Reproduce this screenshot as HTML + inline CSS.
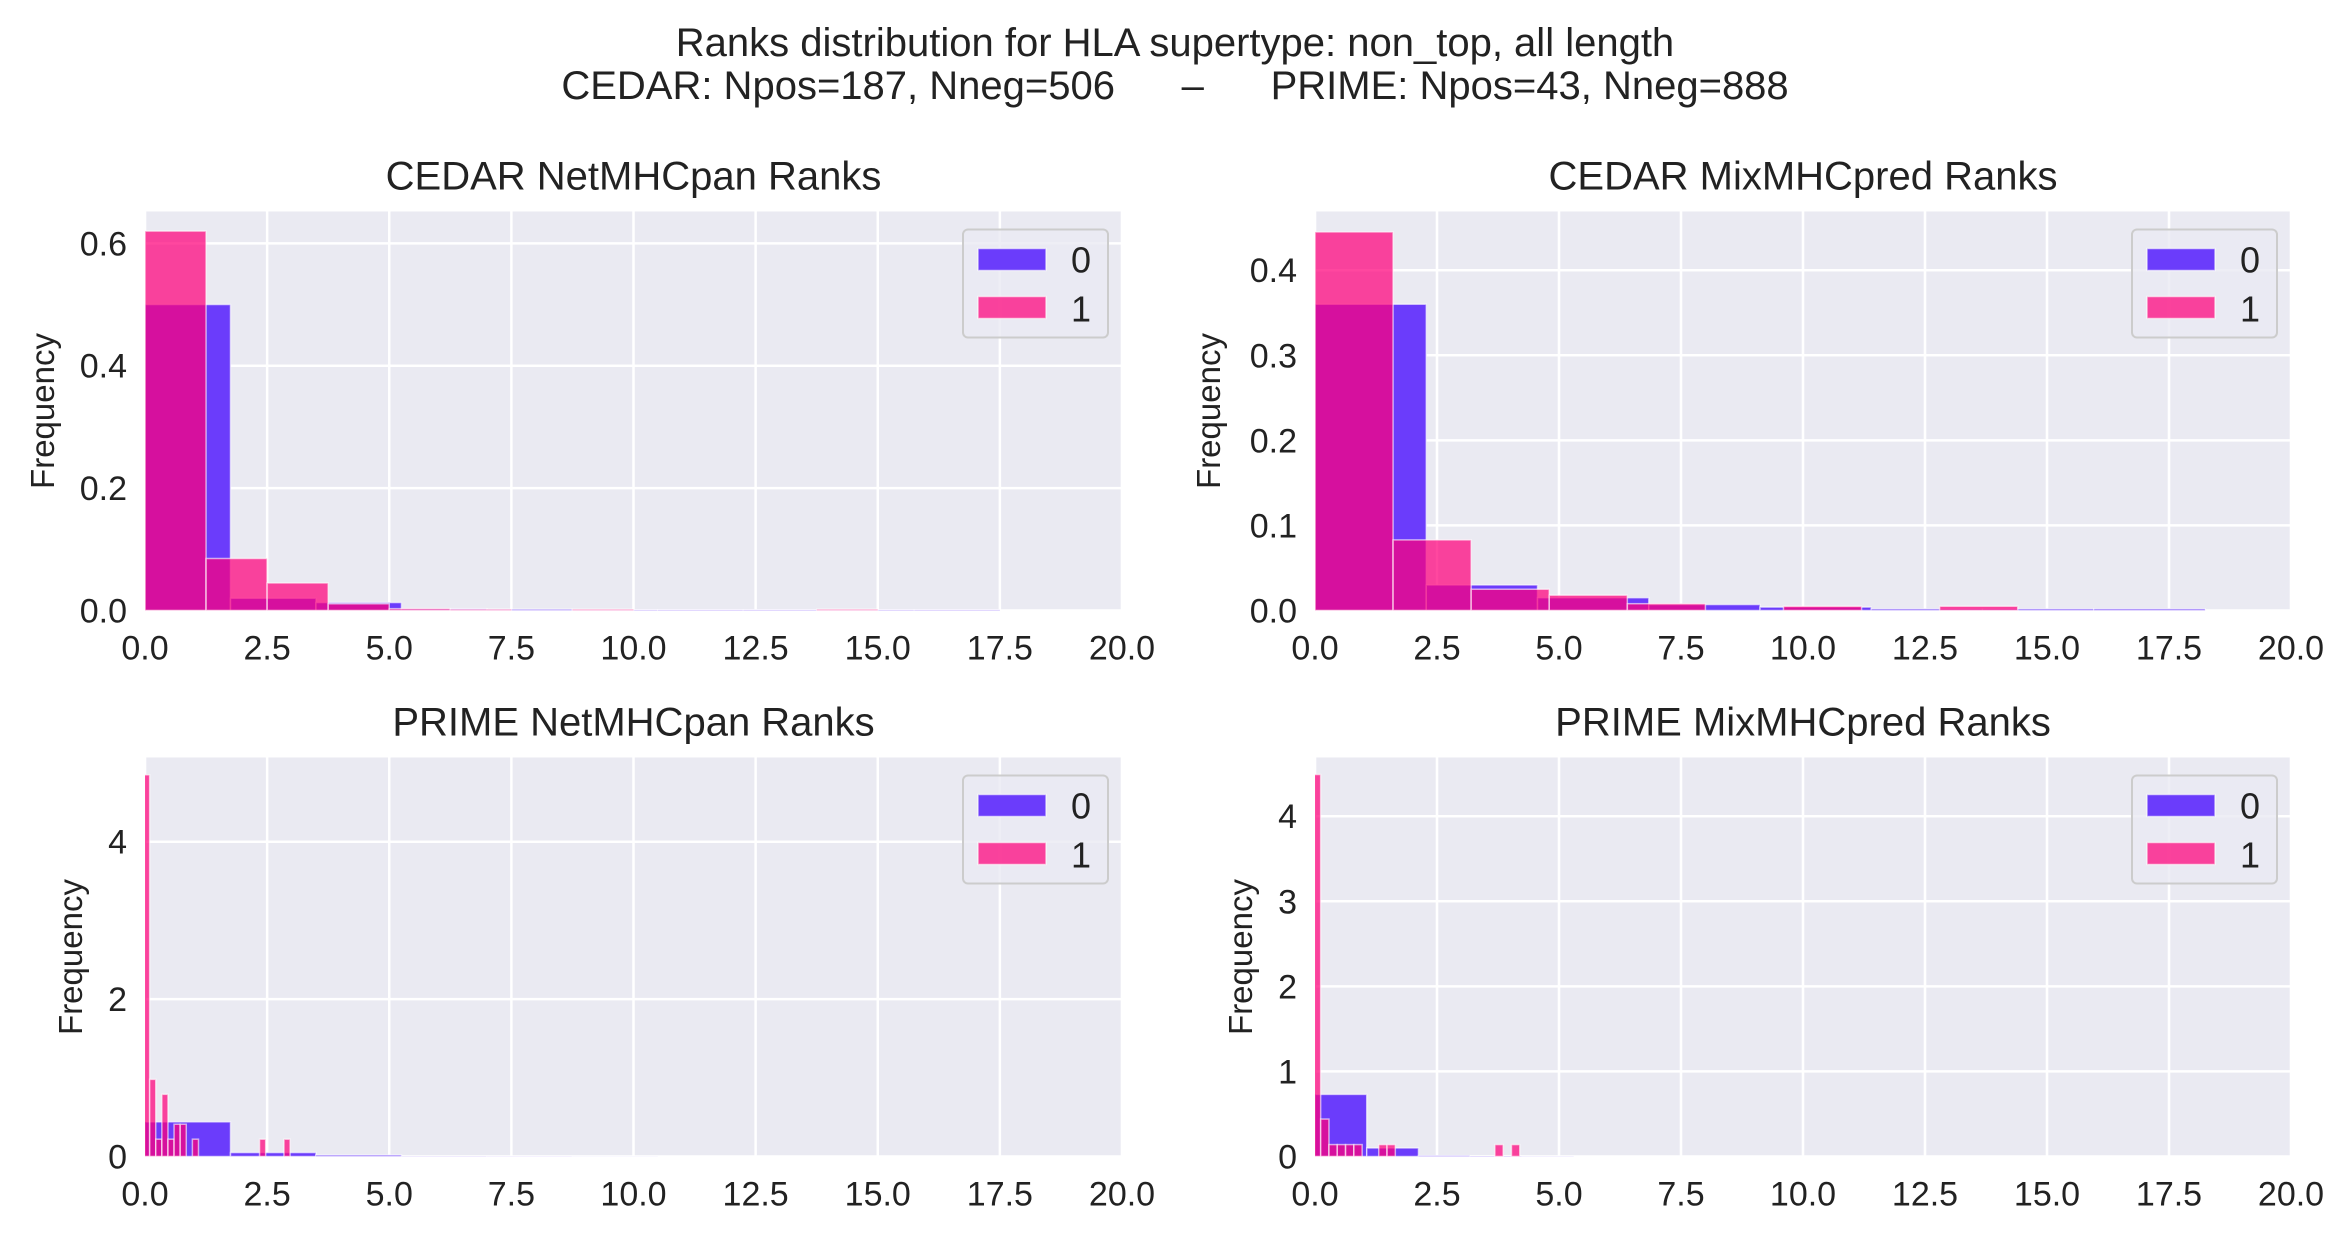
<!DOCTYPE html>
<html><head><meta charset="utf-8"><style>
html,body{margin:0;padding:0;background:#fff;}
svg{display:block;font-family:"Liberation Sans","DejaVu Sans",sans-serif;}
</style></head><body>
<svg id="fig" width="2351" height="1238" viewBox="0 0 2351 1238" xmlns="http://www.w3.org/2000/svg">
<rect width="2351" height="1238" fill="#fff"/>
<text x="1175" y="56" font-size="40" text-anchor="middle" fill="#222">Ranks distribution for HLA supertype: non_top, all length</text>
<text x="1175" y="99" font-size="40" text-anchor="middle" fill="#222" xml:space="preserve">CEDAR: Npos=187, Nneg=506      –      PRIME: Npos=43, Nneg=888</text>
</svg>
<script>
// Panel 1: CEDAR NetMHCpan
const p1BlueStart = 0, p1BlueWidth = 1.75;
const p1Blue = [0.50, 0.02, 0.013, 0.003, 0.002, 0.001, 0.001, 0.001, 0.001, 0.001];
const p1PinkStart = 0, p1PinkWidth = 1.25;
const p1Pink = [0.62, 0.085, 0.045, 0.011, 0.003, 0.002, 0, 0.002, 0, 0, 0, 0.002];
// Panel 2: CEDAR MixMHCpred
const p2BlueStart = 0, p2BlueWidth = 2.28;
const p2Blue = [0.36, 0.03, 0.015, 0.007, 0.004, 0.002, 0.002, 0.002];
const p2PinkStart = 0, p2PinkWidth = 1.6;
const p2Pink = [0.445, 0.083, 0.025, 0.018, 0.008, 0, 0.005, 0, 0.005, 0, 0, 0];
// Panel 3: PRIME NetMHCpan
const p3BlueStart = 0, p3BlueWidth = 1.75;
const p3Blue = [0.44, 0.05, 0.02, 0.003, 0.002, 0.001];
const p3PinkStart = -0.03, p3PinkWidth = 0.125;
const p3Pink = [4.85, 0.98, 0.22, 0.79, 0.22, 0.41, 0.41, 0, 0.22, 0, 0, 0, 0, 0, 0, 0, 0, 0, 0, 0.22, 0, 0, 0, 0.22];
// Panel 4: PRIME MixMHCpred
const p4BlueStart = 0, p4BlueWidth = 1.06;
const p4Blue = [0.73, 0.1, 0.01, 0.005, 0.002];
const p4PinkStart = -0.054, p4PinkWidth = 0.17;
const p4Pink = [4.49, 0.44, 0.14, 0.14, 0.14, 0.14, 0, 0, 0.14, 0.14, 0, 0, 0, 0, 0, 0, 0, 0, 0, 0, 0, 0, 0.14, 0, 0.14];
const xTicks = [0, 2.5, 5, 7.5, 10, 12.5, 15, 17.5, 20];
const xTickLabels = ["0.0","2.5","5.0","7.5","10.0","12.5","15.0","17.5","20.0"];
const p1YTicks = [0, 0.2, 0.4, 0.6], p1YLabels = ["0.0","0.2","0.4","0.6"];
const p2YTicks = [0, 0.1, 0.2, 0.3, 0.4], p2YLabels = ["0.0","0.1","0.2","0.3","0.4"];
const p3YTicks = [0, 2, 4], p3YLabels = ["0","2","4"];
const p4YTicks = [0, 1, 2, 3, 4], p4YLabels = ["0","1","2","3","4"];

const NS = "http://www.w3.org/2000/svg";
const svg = document.getElementById('fig');
function mk(tag, attrs, parent){const e=document.createElementNS(NS,tag);for(const k in attrs)e.setAttribute(k,attrs[k]);(parent||svg).appendChild(e);return e;}

const panels = [
 {name:'cedar-netmhcpan', title:'CEDAR NetMHCpan Ranks', x0:145, x1:1122, y0:211.5, y1:610.5, ymax:0.652, yt:p1YTicks, yl:p1YLabels, ylx:54, b:[p1BlueStart,p1BlueWidth,p1Blue], p:[p1PinkStart,p1PinkWidth,p1Pink]},
 {name:'cedar-mixmhcpred', title:'CEDAR MixMHCpred Ranks', x0:1315, x1:2291, y0:211.5, y1:610.5, ymax:0.469, yt:p2YTicks, yl:p2YLabels, ylx:1220, b:[p2BlueStart,p2BlueWidth,p2Blue], p:[p2PinkStart,p2PinkWidth,p2Pink]},
 {name:'prime-netmhcpan', title:'PRIME NetMHCpan Ranks', x0:145, x1:1122, y0:757.5, y1:1156.5, ymax:5.07, yt:p3YTicks, yl:p3YLabels, ylx:82, b:[p3BlueStart,p3BlueWidth,p3Blue], p:[p3PinkStart,p3PinkWidth,p3Pink]},
 {name:'prime-mixmhcpred', title:'PRIME MixMHCpred Ranks', x0:1315, x1:2291, y0:757.5, y1:1156.5, ymax:4.69, yt:p4YTicks, yl:p4YLabels, ylx:1252, b:[p4BlueStart,p4BlueWidth,p4Blue], p:[p4PinkStart,p4PinkWidth,p4Pink]}
];

panels.forEach((P,pi)=>{
  const g = mk('g',{});
  
  
  const xs = v => P.x0 + (v/20)*(P.x1-P.x0);
  const ys = v => P.y1 - (v/P.ymax)*(P.y1-P.y0);
  const bg = mk('rect',{x:P.x0,y:P.y0,width:P.x1-P.x0,height:P.y1-P.y0,fill:'#eaeaf2'},g);
  
  
  xTicks.forEach(t=>{mk('line',{x1:xs(t),x2:xs(t),y1:P.y0,y2:P.y1,stroke:'#fff','stroke-width':2.5},g);});
  P.yt.forEach(t=>{mk('line',{x1:P.x0,x2:P.x1,y1:ys(t),y2:ys(t),stroke:'#fff','stroke-width':2.5},g);});
  const cid='clip'+pi;
  const cp=mk('clipPath',{id:cid},g); mk('rect',{x:P.x0,y:P.y0,width:P.x1-P.x0,height:P.y1-P.y0},cp);
  const bars=mk('g',{'clip-path':'url(#'+cid+')'},g);
  const [bs,bw,bv]=P.b;
  bv.forEach((v,i)=>{ if(v<=0) return;
    const r=mk('rect',{x:xs(bs+i*bw),y:ys(v),width:xs(bs+(i+1)*bw)-xs(bs+i*bw),height:ys(0)-ys(v),fill:'#6b3cfb',stroke:'rgba(255,255,255,0.6)','stroke-width':1.5},bars);
    
    
  });
  const [ps,pw,pv]=P.p;
  pv.forEach((v,i)=>{ if(v<=0) return;
    const r=mk('rect',{x:xs(ps+i*pw),y:ys(v),width:xs(ps+(i+1)*pw)-xs(ps+i*pw),height:ys(0)-ys(v),fill:'rgba(255,0,122,0.72)',stroke:'rgba(255,255,255,0.6)','stroke-width':1.5},bars);
    
    
  });
  xTicks.forEach((t,i)=>{
    const tx=mk('text',{x:xs(t),y:P.y1+49,'font-size':34,'text-anchor':'middle',fill:'#222'},g);
    tx.textContent=xTickLabels[i];
    
    
  });
  P.yt.forEach((t,i)=>{
    const tx=mk('text',{x:P.x0-18,y:ys(t)+12,'font-size':34,'text-anchor':'end',fill:'#222'},g);
    tx.textContent=P.yl[i];
    
    
  });
  const yl=mk('text',{x:P.ylx,y:(P.y0+P.y1)/2,'font-size':33,'text-anchor':'middle',fill:'#222',transform:'rotate(-90 '+P.ylx+' '+((P.y0+P.y1)/2)+')'},g);
  yl.textContent='Frequency';
  
  
  const ti=mk('text',{x:(P.x0+P.x1)/2,y:P.y0-22,'font-size':40,'text-anchor':'middle',fill:'#222'},g);
  ti.textContent=P.title;
  
  
  const lg=mk('g',{},g);
  
  
  const lx=P.x1-159, ly=P.y0+18;
  mk('rect',{x:lx,y:ly,width:145,height:108,rx:5,fill:'rgba(234,234,242,0.8)',stroke:'#ccc','stroke-width':2},lg);
  mk('rect',{x:lx+15,y:ly+19,width:68,height:22,fill:'#6b3cfb',stroke:'rgba(255,255,255,0.6)','stroke-width':1.5},lg);
  mk('rect',{x:lx+15,y:ly+67,width:68,height:22,fill:'rgba(255,0,122,0.72)',stroke:'rgba(255,255,255,0.6)','stroke-width':1.5},lg);
  const t0=mk('text',{x:lx+108,y:ly+43,'font-size':36,fill:'#222'},lg); t0.textContent='0';
  
  
  const t1=mk('text',{x:lx+108,y:ly+92,'font-size':36,fill:'#222'},lg); t1.textContent='1';
  
  
});
</script>
</body></html>
